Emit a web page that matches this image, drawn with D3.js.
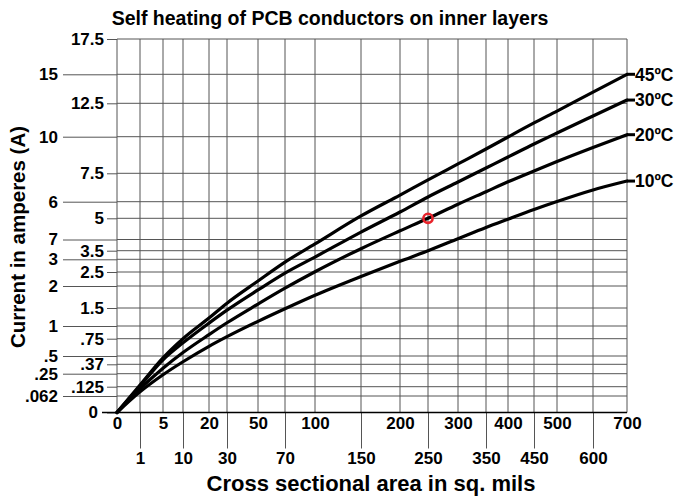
<!DOCTYPE html>
<html>
<head>
<meta charset="utf-8">
<script src="https://cdn.jsdelivr.net/npm/d3@7"></script>
<style>
  body { margin: 0; background: #fff; }
  svg { display: block; }
  text { font-family: "Liberation Sans", Arial, Helvetica, sans-serif; font-weight: bold; fill: #000; }
</style>
</head>
<body>
<svg id="chart" width="678" height="497"></svg>
<script>
// ---- data ----
const titleText = "Self heating of PCB conductors on inner layers";
const xTitle = "Cross sectional area in sq. mils";
const yTitle = "Current in amperes (A)";

// x tick labels, split across the two label rows
const xTicksUpper = [0, 5, 20, 50, 100, 200, 300, 400, 500, 700];
const xTicksLower = [1, 10, 30, 70, 150, 250, 350, 450, 600];

// y tick values and the text printed beside each one
const yTickValues = [0, 0.062, 0.125, 0.25, 0.37, 0.5, 0.75, 1, 1.5, 2, 2.5, 3, 3.5, 4, 5, 6, 7.5, 10, 12.5, 15, 17.5];
const yTickLabels = ["0", ".062", ".125", ".25", ".37", ".5", ".75", "1", "1.5", "2", "2.5", "3", "3.5", "7", "5", "6", "7.5", "10", "12.5", "15", "17.5"];
// ticks whose labels sit in the outer column
const yTicksOuter = [0.062, 0.25, 0.5, 1, 2, 3, 4, 6, 10, 15];

// temperature-rise curves: current (A) at each cross-sectional area (sq. mils)
const seriesNames = ["45ºC", "30ºC", "20ºC", "10ºC"];
const sampleArea = [0, 1, 5, 10, 20, 30, 50, 70, 100, 150, 200, 250, 300, 350, 400, 450, 500, 600, 700];
const current45 = [0, 0.14, 0.47, 0.75, 1.22, 1.61, 2.18, 2.89, 3.8, 5.14, 6.35, 7.15, 8.14, 9.16, 9.98, 11.03, 11.92, 13.47, 15];
const current30 = [0, 0.13, 0.44, 0.69, 1.08, 1.44, 1.91, 2.46, 3.13, 4.35, 5.38, 6.25, 7.04, 7.86, 8.61, 9.5, 10.28, 11.55, 12.78];
const current20 = [0, 0.11, 0.32, 0.55, 0.83, 1.09, 1.59, 1.95, 2.51, 3.59, 4.41, 5, 5.85, 6.53, 7.05, 7.66, 8.3, 9.26, 10.15];
const current10 = [0, 0.09, 0.24, 0.41, 0.64, 0.79, 1.13, 1.48, 1.79, 2.34, 2.92, 3.5, 4.04, 4.57, 4.96, 5.53, 6.01, 6.62, 7.09];

// highlighted reading on the 20ºC curve
const markedArea = 250;
const markedCurrent = 5;

// ---- layout ----
const svg = d3.select("#chart");
const plot = { left: 117, right: 627, top: 39, bottom: 412.5 };

// The grid is not evenly spaced: each tick value gets its own position along the axis.
const xGrid = [...xTicksUpper, ...xTicksLower].sort((a, b) => a - b);
const xStops = [0, 23, 46, 66, 92, 110, 141, 168, 198, 244, 283, 311, 341, 369, 391, 417, 440, 476, 510];
const x = d3.scaleLinear()
  .domain(xGrid)
  .range(xStops.map(s => plot.left + s));

const yStops = [0, 16.5, 25.8, 38.8, 48.2, 56.5, 73.8, 86.5, 104.5, 126.5, 140.5, 153.2, 161.8, 173, 194.2, 210.8, 239.2, 275.8, 309.2, 338.2, 373.5];
const y = d3.scaleLinear()
  .domain(yTickValues)
  .range(yStops.map(s => plot.bottom - s));

const labelOf = new Map(yTickValues.map((v, i) => [v, yTickLabels[i]]));
const gridColor = "#555";
const tickFont = 17;

// ---- grid ----
const grid = svg.append("g");
grid.selectAll("line.v").data(xGrid).join("line")
  .attr("x1", d => x(d)).attr("x2", d => x(d))
  .attr("y1", plot.top).attr("y2", plot.bottom)
  .attr("stroke", gridColor).attr("stroke-width", 1);
grid.selectAll("line.h").data(yTickValues).join("line")
  .attr("x1", plot.left).attr("x2", plot.right)
  .attr("y1", d => y(d)).attr("y2", d => y(d))
  .attr("stroke", gridColor).attr("stroke-width", 1);

// ---- y axes (two label columns) ----
function styleAxis(g, size) {
  g.select(".domain").remove();
  g.selectAll(".tick line").attr("stroke", gridColor).attr("stroke-width", 1);
  g.selectAll(".tick text").style("font-size", size + "px").attr("fill", "#000");
}
const yInner = yTickValues.filter(v => !yTicksOuter.includes(v));
svg.append("g")
  .attr("transform", `translate(${plot.left},0)`)
  .call(d3.axisLeft(y).tickValues(yInner).tickSize(10).tickPadding(3).tickFormat(d => labelOf.get(d)))
  .call(g => styleAxis(g, tickFont))
  .call(g => g.selectAll(".tick text").filter(d => d === 0).attr("x", -19));
svg.append("g")
  .attr("transform", `translate(${plot.left},0)`)
  .call(d3.axisLeft(y).tickValues(yTicksOuter).tickSize(54).tickPadding(5).tickFormat(d => labelOf.get(d)))
  .call(g => styleAxis(g, tickFont));

// ---- x axes (two label rows) ----
svg.append("g")
  .attr("transform", `translate(0,${plot.bottom})`)
  .call(d3.axisBottom(x).tickValues(xTicksUpper).tickSize(0).tickPadding(4))
  .call(g => styleAxis(g, tickFont));
svg.append("g")
  .attr("transform", `translate(0,${plot.bottom})`)
  .call(d3.axisBottom(x).tickValues(xTicksLower).tickSize(36).tickPadding(3))
  .call(g => styleAxis(g, tickFont));

// axis line along the bottom
svg.append("line")
  .attr("x1", 102).attr("x2", plot.right)
  .attr("y1", plot.bottom).attr("y2", plot.bottom)
  .attr("stroke", "#000").attr("stroke-width", 1.5);

// ---- curves ----
const seriesValues = [current45, current30, current20, current10];
const line = d3.line()
  .x(d => x(d[0]))
  .y(d => y(d[1]))
  .curve(d3.curveMonotoneX);

const curves = svg.append("g");
seriesValues.forEach((vals, i) => {
  const pts = sampleArea.map((a, j) => [a, vals[j]]);
  curves.append("path")
    .attr("d", line(pts))
    .attr("fill", "none")
    .attr("stroke", "#000")
    .attr("stroke-width", 3.2)
    .attr("stroke-linejoin", "round")
    .attr("stroke-linecap", "round");
  const last = vals[vals.length - 1];
  const xe = x(sampleArea[sampleArea.length - 1]);
  curves.append("line")
    .attr("x1", xe).attr("x2", xe + 8)
    .attr("y1", y(last)).attr("y2", y(last))
    .attr("stroke", "#000").attr("stroke-width", 3);
  curves.append("text")
    .attr("x", xe + 8)
    .attr("y", y(last))
    .attr("dy", "0.36em")
    .style("font-size", "17.5px")
    .text(seriesNames[i]);
});

// highlighted reading
svg.append("circle")
  .attr("cx", x(markedArea))
  .attr("cy", y(markedCurrent))
  .attr("r", 4.6)
  .attr("fill", "none")
  .attr("stroke", "#e8232b")
  .attr("stroke-width", 2.6);

// ---- titles ----
svg.append("text")
  .attr("x", 330).attr("y", 25)
  .attr("text-anchor", "middle")
  .style("font-size", "19.5px")
  .text(titleText);

svg.append("text")
  .attr("x", 371).attr("y", 491)
  .attr("text-anchor", "middle")
  .style("font-size", "22px")
  .text(xTitle);

svg.append("text")
  .attr("transform", "translate(25,237) rotate(-90)")
  .attr("text-anchor", "middle")
  .style("font-size", "20.5px")
  .text(yTitle);
</script>
</body>
</html>
